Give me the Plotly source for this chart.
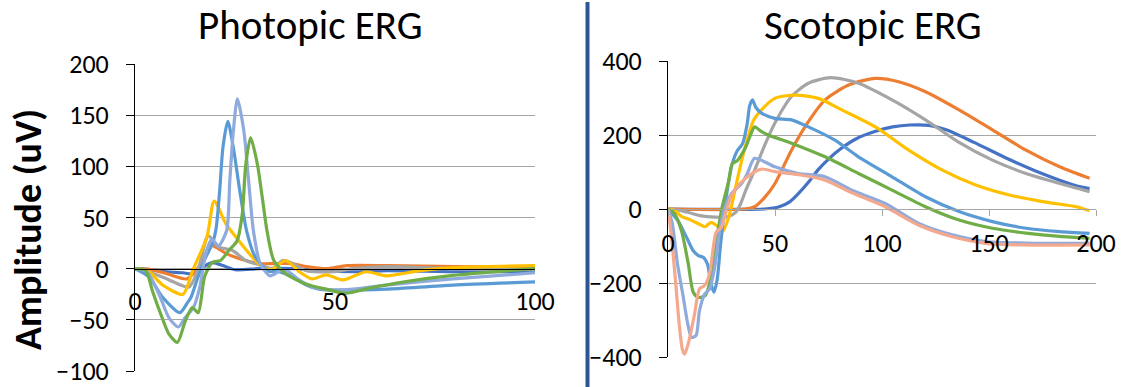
import plotly.graph_objects as go

# ---------------- Photopic ERG (left) ----------------
p_dblue_t = [0, 4, 8, 12, 14, 16, 18, 19.5, 22, 25, 31, 40, 46, 55, 63, 80, 100]
p_dblue_v = [0, -1, -3, -4, -5, -2, 4, 6, 3, -1, 0, 0, -2, -3, -2, -3, -3]

p_orange_t = [0, 4, 8, 13, 16, 19, 20.2, 22.7, 26, 31, 35, 39, 43, 48, 53, 63, 80, 100]
p_orange_v = [0, -1, -5, -10, 2, 23, 21, 15, 10, 5, 5, 5, 2, 0, 3, 3, 2, 1]

p_gray_t = [0, 4, 8, 13.5, 16, 18.3, 21, 24.3, 27.7, 31.8, 34.4, 36.9, 39.4, 42.8, 49.5, 54.5, 63, 80, 100]
p_gray_v = [0, -4, -10, -18, 2, 32, 21, 18, 8, 3, 0, 8, 5, -2, -3, 0, 2, 0, -1]

p_yellow_t = [0, 3.5, 6.9, 12, 14.4, 18, 19.8, 22.7, 26, 29.4, 31.8, 34, 37.7, 41.1, 44.3, 47.8, 52, 57.8, 62.8, 71.2, 79.5, 100]
p_yellow_v = [0, -3, -16, -25, -2, 31, 66, 44, 27, 11, 2, -1, 8, -3, -10, -6, -11, -3, -7, -2, 1, 3]

p_lblue_t = [0, 3.5, 6.9, 11.2, 13, 14, 15.5, 17.3, 19.4, 20.3, 21.2, 22, 23.2, 24.6, 26.2, 27.9, 30, 33.2, 36, 39.4, 42.8, 46, 52.8, 62.8, 79.5, 100]
p_lblue_v = [0, -8, -28, -43, -34, -28, -11, 8, 25, 40, 78, 119, 144, 118, 76, 37, 12, -2, -3, -8, -16, -20, -21, -20, -16, -13]

p_lav_t = [0, 3, 6, 8.5, 10.8, 12.5, 14.6, 16.2, 17.7, 19.2, 20.8, 22.9, 23.7, 24.6, 25.6, 27.2, 28.4, 29.6, 31.3, 33.8, 36.3, 38, 41, 44.4, 49.5, 54.5, 62.8, 79.5, 100]
p_lav_v = [0, -3, -25, -48, -57, -48, -38, -18, 15, 29, 22, 37, 86, 135, 166, 135, 86, 37, 5, -7, -2, -2, -11, -18, -21, -20, -16, -10, -4]

p_green_t = [0, 2.7, 4.3, 6.4, 8.5, 10.6, 12.5, 14.3, 15.8, 17.4, 19.3, 21.4, 23.5, 25.5, 26.8, 27.7, 28.9, 30.6, 31.8, 33, 34.7, 37.7, 42.7, 47.7, 52.8, 58.6, 67, 79.5, 100]
p_green_v = [0, -2, -21, -44, -64, -72, -52, -38, -43, -8, 6, 8, 18, 27, 53, 102, 128, 102, 70, 37, 8, -5, -15, -20, -24, -19, -13, -6.5, 0]

# ---------------- Scotopic ERG (right) ----------------
s_dblue_t = [0, 45, 52, 57, 61, 66, 70, 75, 81, 88, 97, 105, 113, 122, 130, 143, 159, 175, 190, 197]
s_dblue_v = [0, 0, 6, 20, 42, 75, 105, 135, 164, 190, 210, 222, 227, 226, 214, 180, 135, 95, 64, 55]

s_orange_t = [0, 36, 40.5, 45, 50, 57.7, 65.6, 73.4, 84.4, 96.9, 107.8, 120.3, 136, 151.6, 167.3, 183, 197]
s_orange_v = [0, 0, 6, 30, 69, 159, 236, 295, 335, 353, 344, 317, 268, 214, 159, 114, 83]

s_gray_t = [0, 5, 10, 15, 22, 28, 31.6, 34, 36.3, 40.5, 45, 49.9, 57.7, 65.6, 76, 89, 104.7, 120.3, 136, 151.6, 167.3, 183, 197]
s_gray_v = [0, -3, -10, -18, -22, -21, -9, 15, 50, 105, 170, 232, 304, 340, 355, 340, 295, 241, 180, 132, 96, 69, 47]

s_yellow_t = [0, 3, 6.3, 10.7, 15, 17.4, 19, 20.5, 22, 23.7, 25.5, 28.4, 31.6, 34.8, 37.4, 40, 43.7, 49.9, 59.3, 70.3, 81.2, 96.9, 112.5, 128.2, 143.8, 159.5, 175, 190.8, 197]
s_yellow_v = [0, -3, -20, -30, -42, -48, -40, -37, -42, -50, -60, -22, 59, 140, 195, 240, 268, 299, 308, 299, 268, 222, 159, 105, 65, 38, 20, 6, -5]

s_lblue_t = [0, 4.7, 8.7, 11.8, 14.2, 16.6, 18.5, 20, 21.5, 23, 24.5, 26.9, 30, 32.4, 34.8, 37, 38.2, 39.5, 41, 43.7, 49.9, 57.7, 65.6, 78, 89, 104.7, 120.3, 136, 151.6, 167.3, 183, 197]
s_lblue_v = [0, -32, -77, -113, -126, -131, -150, -200, -225, -190, -100, 20, 122, 158, 176, 230, 280, 295, 275, 259, 245, 241, 222, 186, 141, 87, 33, -7, -34, -52, -61, -66]

s_green_t = [0, 3, 6.3, 9.5, 11.8, 14.2, 17.4, 19.7, 22.1, 25.3, 28.4, 30, 32.4, 36.3, 40.5, 43, 46.8, 57.7, 73.4, 89, 104.7, 120.3, 136, 151.6, 167.3, 183, 197]
s_green_v = [0, -12, -59, -149, -225, -239, -234, -194, -104, 5, 77, 122, 131, 167, 222, 212, 200, 178, 141, 96, 51, 6, -30, -52, -65, -74, -79]

s_lav_t = [0, 2, 4.4, 6.9, 9.2, 11, 13.1, 14.7, 17.1, 19.4, 21.8, 24.1, 27.2, 29.6, 34.3, 37, 40.5, 49.9, 60.9, 73.4, 85.9, 101.5, 117.2, 132.9, 148.5, 167, 197]
s_lav_v = [0, -39, -147, -230, -310, -347, -342, -275, -230, -216, -158, -59, 14, 41, 68, 95, 137, 114, 96, 87, 51, 15, -39, -70, -88, -92, -93]

s_salmon_t = [0, 1.3, 3.6, 5.2, 6.8, 7.8, 9.5, 12.4, 14.7, 17.1, 19.4, 22.5, 24.9, 27, 29.6, 33.5, 39, 43.7, 49.9, 62.1, 73.4, 85.9, 101.5, 117.2, 132.9, 148.5, 165, 197]
s_salmon_v = [0, -57, -200, -309, -381, -392, -363, -284, -216, -207, -176, -63, -50, -10, 36, 68, 95, 108, 101, 92, 78, 44, 6, -44, -75, -93, -97, -97]

p_x_ticks = [0, 50, 100]
p_y_ticks = [-100, -50, 0, 50, 100, 150, 200]
s_x_ticks = [0, 50, 100, 150, 200]
s_y_ticks = [-400, -200, 0, 200, 400]

C_DBLUE = "#4472C4"
C_ORANGE = "#ED7D31"
C_GRAY = "#A5A5A5"
C_YELLOW = "#FFC000"
C_LBLUE = "#5B9BD5"
C_GREEN = "#70AD47"
C_LAV = "#8FAADC"
C_SALMON = "#F4A98E"

FONT = "Carlito, Lato, 'Open Sans', sans-serif"
W, H = 1130, 387

fig = go.Figure()

left = [
    (p_dblue_t, p_dblue_v, C_DBLUE),
    (p_orange_t, p_orange_v, C_ORANGE),
    (p_gray_t, p_gray_v, C_GRAY),
    (p_yellow_t, p_yellow_v, C_YELLOW),
    (p_lblue_t, p_lblue_v, C_LBLUE),
    (p_lav_t, p_lav_v, C_LAV),
    (p_green_t, p_green_v, C_GREEN),
]
right = [
    (s_dblue_t, s_dblue_v, C_DBLUE),
    (s_orange_t, s_orange_v, C_ORANGE),
    (s_gray_t, s_gray_v, C_GRAY),
    (s_yellow_t, s_yellow_v, C_YELLOW),
    (s_lblue_t, s_lblue_v, C_LBLUE),
    (s_green_t, s_green_v, C_GREEN),
    (s_lav_t, s_lav_v, C_LAV),
    (s_salmon_t, s_salmon_v, C_SALMON),
]

for t, v, c in left:
    fig.add_trace(go.Scatter(x=t, y=v, mode="lines", xaxis="x", yaxis="y",
                             line=dict(color=c, width=3.2, shape="spline", smoothing=0.7),
                             showlegend=False, hoverinfo="skip"))
for t, v, c in right:
    fig.add_trace(go.Scatter(x=t, y=v, mode="lines", xaxis="x2", yaxis="y2",
                             line=dict(color=c, width=3.2, shape="spline", smoothing=0.7),
                             showlegend=False, hoverinfo="skip"))

# domains (paper fractions from pixel positions)
lx0, lx1 = 135 / W, 535 / W
ly0, ly1 = 1 - 371 / H, 1 - 64 / H
rx0, rx1 = 668 / W, 1096 / W
ry0, ry1 = 1 - 357 / H, 1 - 61 / H

lpos = ly0 + (0 - (-100)) / 300 * (ly1 - ly0)
rpos = ry0 + (0 - (-400)) / 800 * (ry1 - ry0)

tickfont = dict(family=FONT, size=26, color="#000000")
GRID = "#A6A6A6"

fig.update_layout(
    template="none",
    width=W, height=H,
    margin=dict(l=0, r=0, t=0, b=0, pad=0),
    paper_bgcolor="white", plot_bgcolor="white",
    font=dict(family=FONT, color="black"),
    xaxis=dict(domain=[lx0, lx1], range=[0, 100], tickvals=p_x_ticks, automargin=False,
               anchor="free", position=lpos, showgrid=False, zeroline=False,
               showline=True, linecolor="#000000", linewidth=1,
               ticks="", ticklabelstandoff=9, tickfont=tickfont,
               ticklabeloverflow="allow"),
    yaxis=dict(domain=[ly0, ly1], range=[-100, 200], tickvals=p_y_ticks, automargin=False,
               anchor="x", showgrid=True, gridcolor=GRID, gridwidth=1, zeroline=False,
               showline=True, linecolor="#000000", linewidth=1,
               ticks="outside", ticklen=8, tickcolor="#000000", tickfont=tickfont,
               ticklabelstandoff=12, ticklabeloverflow="allow"),
    xaxis2=dict(domain=[rx0, rx1], range=[0, 200], tickvals=s_x_ticks, automargin=False,
                anchor="free", position=rpos, showgrid=False, zeroline=False,
                showline=True, linecolor=GRID, linewidth=1,
                ticks="outside", ticklen=6, tickcolor=GRID,
                ticklabelstandoff=5, tickfont=tickfont, ticklabeloverflow="allow"),
    yaxis2=dict(domain=[ry0, ry1], range=[-400, 400], tickvals=s_y_ticks, automargin=False,
                anchor="x2", showgrid=True, gridcolor=GRID, gridwidth=1, zeroline=False,
                showline=True, linecolor="#000000", linewidth=1,
                ticks="outside", ticklen=8, tickcolor="#000000", tickfont=tickfont,
                ticklabelstandoff=12, ticklabeloverflow="allow"),
    shapes=[dict(type="line", xref="paper", yref="paper",
                 x0=587.5 / W, x1=587.5 / W, y0=0, y1=1 - 2 / H,
                 line=dict(color="#2F5597", width=4))],
    annotations=[
        dict(text="Photopic ERG", xref="paper", yref="paper", x=310 / W, y=1 - 25 / H,
             xanchor="center", yanchor="middle", showarrow=False,
             font=dict(family=FONT, size=41, color="black")),
        dict(text="Scotopic ERG", xref="paper", yref="paper", x=873 / W, y=1 - 25 / H,
             xanchor="center", yanchor="middle", showarrow=False,
             font=dict(family=FONT, size=41, color="black")),
        dict(text="<b>Amplitude (uV)</b>", xref="paper", yref="paper", x=28 / W, y=1 - 230 / H,
             xanchor="center", yanchor="middle", textangle=-90, showarrow=False,
             font=dict(family=FONT, size=38, color="black")),
    ],
)

fig.write_html("out.html", config={"displayModeBar": False, "staticPlot": True},
               post_script="document.body.style.margin='0';document.body.style.padding='0';")
